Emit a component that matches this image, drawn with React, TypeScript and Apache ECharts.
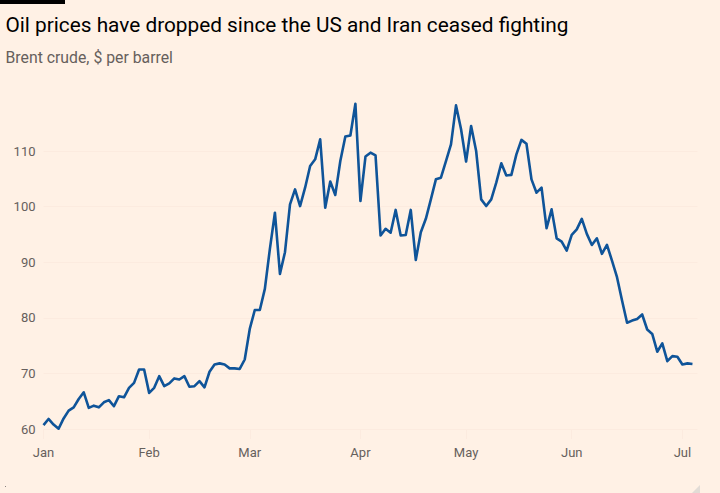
import React, { useEffect, useRef } from "react";
import * as echarts from "echarts";

const monthLabels = ["Jan", "Feb", "Mar", "Apr", "May", "Jun", "Jul"];
// index of the first trading day of each month
const monthStartIndex = [0, 21, 41, 63, 84, 105, 127];

const yTicks = [60, 70, 80, 90, 100, 110];

// Brent crude, $ per barrel, one value per trading day
const brent = [
  60.7, 61.8, 60.8, 60.05, 61.9, 63.3, 63.9, 65.4, 66.6, 63.8,
  64.2, 63.9, 64.8, 65.2, 64.1, 65.9, 65.7, 67.4, 68.3, 70.7,
  70.7, 66.5, 67.4, 69.5, 67.7, 68.2, 69.1, 68.9, 69.5, 67.6,
  67.7, 68.6, 67.5, 70.3, 71.6, 71.8, 71.6, 70.9, 70.9, 70.8,
  72.5, 78.0, 81.4, 81.4, 85.2, 92.4, 98.9, 87.9, 91.8, 100.4,
  103.1, 100.1, 103.4, 107.3, 108.5, 112.1, 99.8, 104.5, 102.1, 108.2,
  112.6, 112.8, 118.5, 101.0, 109.0, 109.7, 109.2, 94.8, 96.0, 95.3,
  99.4, 94.8, 94.9, 99.4, 90.4, 95.4, 97.8, 101.3, 104.9, 105.2,
  108.2, 111.2, 118.2, 113.9, 108.1, 114.5, 110.0, 101.3, 100.1, 101.3,
  104.3, 107.8, 105.6, 105.7, 109.4, 112.0, 111.3, 104.9, 102.5, 103.4,
  96.1, 99.5, 94.3, 93.7, 92.1, 94.9, 95.9, 97.8, 95.1, 93.1,
  94.3, 91.5, 93.1, 90.3, 87.3, 83.1, 79.1, 79.5, 79.8, 80.6,
  77.9, 77.1, 73.9, 75.4, 72.2, 73.1, 73.0, 71.6, 71.8, 71.7,
];

const FONT = "Roboto, 'Noto Sans', sans-serif";
const GRID_COLOR = "#fcebdf";

export default function App() {
  const ref = useRef<HTMLDivElement>(null);

  useEffect(() => {
    if (!ref.current) return;
    const chart = echarts.init(ref.current, undefined, { renderer: "svg" });
    const seriesData = brent.map((v, i) => [i, v]);
    chart.setOption({
      animation: false,
      backgroundColor: "#fff1e5",
      textStyle: { fontFamily: FONT },
      grid: { left: 43.5, right: 22.5, top: 95.4, bottom: 64, containLabel: false },
      xAxis: {
        type: "value",
        min: 0,
        max: 130,
        axisLine: { show: false },
        splitLine: { show: false },
        axisTick: {
          show: true,
          customValues: monthStartIndex,
          length: 10,
          lineStyle: { color: GRID_COLOR, width: 1 },
        },
        axisLabel: {
          customValues: monthStartIndex,
          formatter: (v: number) => {
            const k = monthStartIndex.indexOf(Math.round(v));
            return k >= 0 ? monthLabels[k] : "";
          },
          color: "#66605c",
          fontSize: 13,
          fontFamily: FONT,
          margin: 17,
        },
      },
      yAxis: {
        type: "value",
        min: 60,
        max: 120,
        interval: 10,
        axisLine: { show: false },
        axisTick: { show: false },
        splitLine: {
          show: true,
          showMaxLine: false,
          lineStyle: { color: GRID_COLOR, width: 1 },
        },
        axisLabel: {
          formatter: (v: number) => (yTicks.indexOf(v) >= 0 ? String(v) : ""),
          showMaxLabel: false,
          color: "#66605c",
          fontSize: 13,
          fontFamily: FONT,
          margin: 8,
        },
      },
      series: [
        {
          type: "line",
          data: seriesData,
          symbol: "none",
          lineStyle: { color: "#0f5499", width: 2.6, join: "round" },
          itemStyle: { color: "#0f5499" },
        },
      ],
      graphic: [
        {
          type: "rect",
          shape: { x: 0, y: 0, width: 65, height: 4 },
          style: { fill: "#000000" },
        },
        {
          type: "text",
          x: 5.5,
          y: 24.5,
          style: {
            text: "Oil prices have dropped since the US and Iran ceased fighting",
            fill: "#000000",
            fontSize: 20.8,
            fontFamily: FONT,
            verticalAlign: "middle",
          },
        },
        {
          type: "text",
          x: 5.5,
          y: 57.5,
          style: {
            text: "Brent crude, $ per barrel",
            fill: "#66605c",
            fontSize: 15.8,
            fontFamily: FONT,
            verticalAlign: "middle",
          },
        },
        {
          type: "polygon",
          shape: { points: [[700, 485], [700, 493], [692, 493]] },
          style: { fill: "#e2dcd6" },
        },
        {
          type: "rect",
          shape: { x: 5, y: 486, width: 1, height: 1 },
          style: { fill: "#8a8480" },
        },
      ],
    });
    return () => chart.dispose();
  }, []);

  return (
    <div
      ref={ref}
      style={{ position: "fixed", left: 0, top: 0, width: 720, height: 493 }}
    />
  );
}
